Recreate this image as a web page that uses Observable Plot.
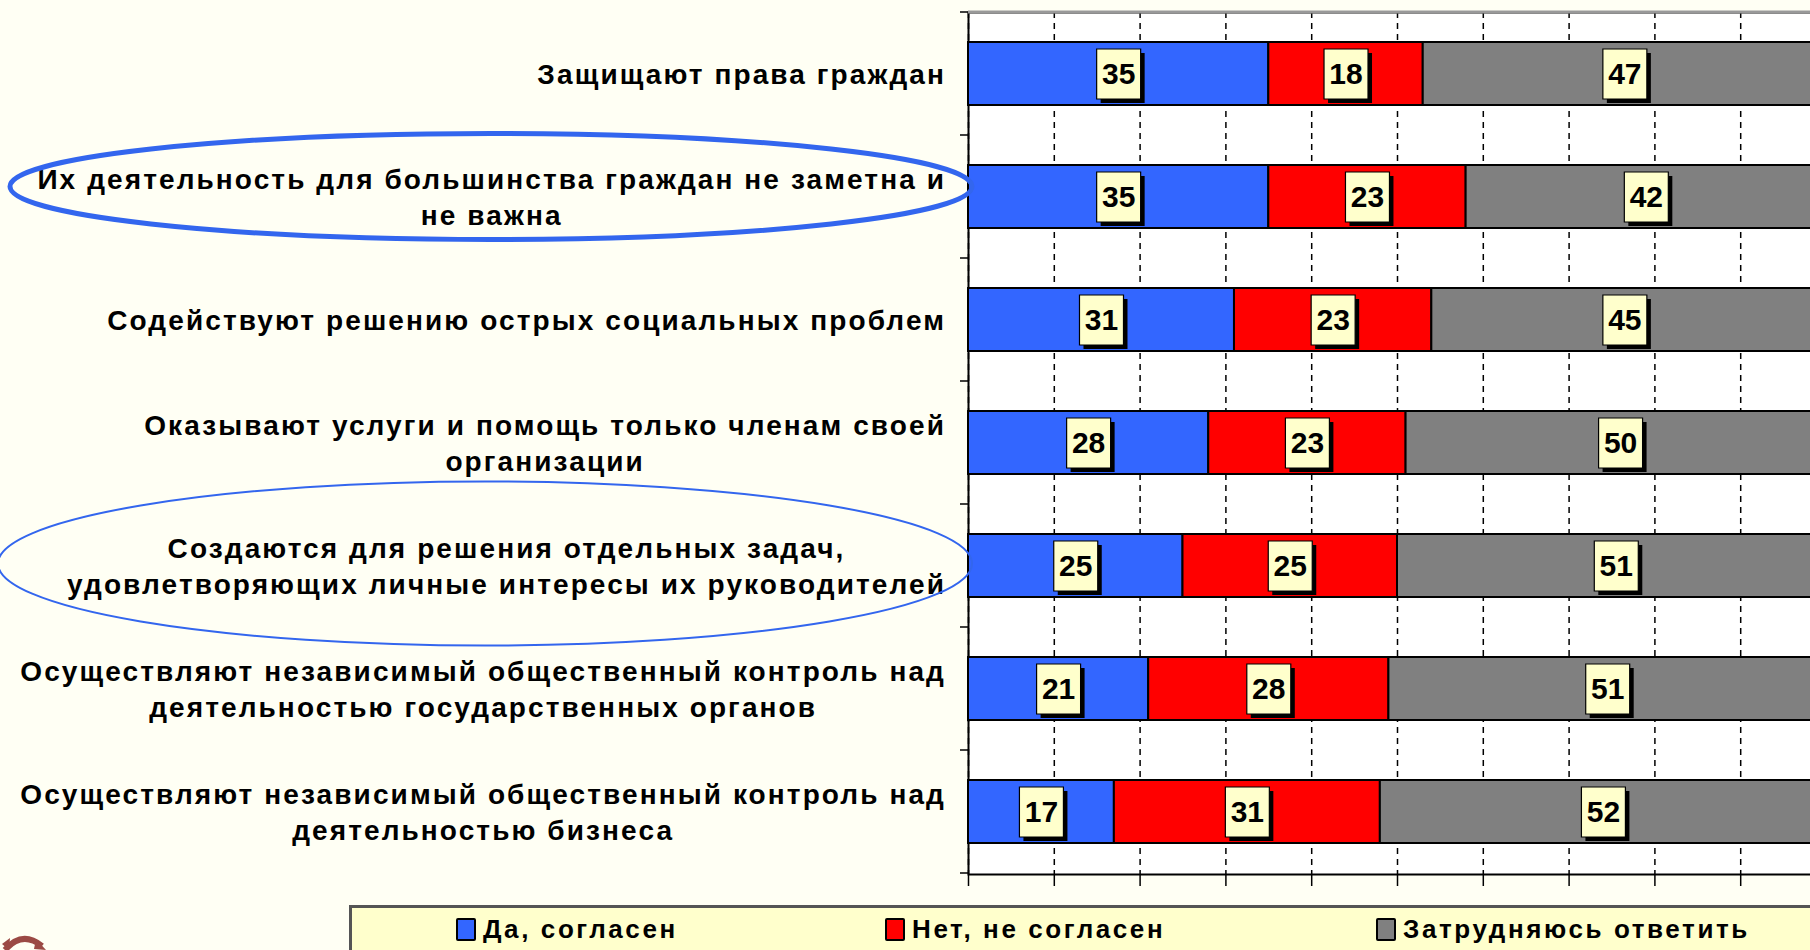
<!DOCTYPE html>
<html><head><meta charset="utf-8">
<script src="https://cdn.jsdelivr.net/npm/d3@7"></script>
<script src="https://cdn.jsdelivr.net/npm/@observablehq/plot@0.6"></script>
<style>
html,body{margin:0;padding:0;background:#FFFFF4;overflow:hidden;width:1810px;height:950px;position:relative;}
#chart{position:absolute;left:0;top:0;width:1840px;}
#chart svg{max-width:none !important;}
g[aria-description="ylabels"] text{letter-spacing:2.1px;}
#legend{position:absolute;left:349px;top:905px;width:1520px;height:70px;background:#FFFFCC;border-top:3px solid #555;border-left:3px solid #555;box-sizing:border-box;font:bold 26px "Liberation Sans",Arial,sans-serif;letter-spacing:2.6px;color:#000;}
#legend .item{position:absolute;top:6px;display:flex;align-items:center;gap:7px;white-space:nowrap;}
#legend .sw{width:16px;height:19px;border:2px solid #000;border-radius:2px;display:inline-block;}
#logo{position:absolute;left:0;top:928px;}
</style>
</head><body>
<div id="chart"></div>
<div id="legend"></div>
<svg id="logo" width="60" height="22"><path d="M5,22 Q22,2 42,18" fill="none" stroke="#9B4A45" stroke-width="6"/><path d="M36,11 L46,22 L34,21 Z" fill="#9B4A45"/><path d="M2,16 L10,10 L9,22 Z" fill="#9B4A45"/></svg>
<script>
const categories = [
  "Защищают права граждан",
  "Их деятельность для большинства граждан не заметна и\nне важна",
  "Содействуют решению острых социальных проблем",
  "Оказывают услуги и помощь только членам своей\nорганизации",
  "Создаются для решения отдельных задач,\nудовлетворяющих личные интересы их руководителей",
  "Осуществляют независимый общественный контроль над\nдеятельностью государственных органов",
  "Осуществляют независимый общественный контроль над\nдеятельностью бизнеса"
];
const series = ["Да, согласен", "Нет, не согласен", "Затрудняюсь ответить"];
const agree = [35, 35, 31, 28, 25, 21, 17];
const disagree = [18, 23, 23, 23, 25, 28, 31];
const unsure = [47, 42, 45, 50, 51, 51, 52];
const highlighted = [1, 4]; // indices of circled statements

const colors = ["#3366FF", "#FF0000", "#808080"];
const valuesBySeries = [agree, disagree, unsure];
const rows = [];
categories.forEach((c, i) => series.forEach((s, j) => rows.push({cat: c, series: s, value: valuesBySeries[j][i]})));

const LABEL_FONT = 28, GAP = 22;
const box = {draw(c) { c.rect(-22, -25, 44, 50); }};

const plot = Plot.plot({
  width: 1840, height: 895,
  marginLeft: 968, marginRight: 14, marginTop: 12, marginBottom: 21,
  style: {background: "transparent", fontFamily: "'Liberation Sans', Arial, sans-serif", overflow: "visible", maxWidth: "none"},
  x: {domain: [0, 100], axis: null, label: null},
  y: {domain: categories, axis: null, paddingInner: 0.485, paddingOuter: 0.2425},
  color: {domain: series, range: colors},
  marks: [
    Plot.frame({fill: "white", stroke: "black", strokeWidth: 2}),
    Plot.gridX({ticks: 10, stroke: "black", strokeOpacity: 1, strokeWidth: 1.5, strokeDasharray: "6,5"}),
    Plot.axisX({ticks: 10, tickSize: 12, tickFormat: () => "", label: null, stroke: "black", strokeWidth: 1.5}),
    Plot.barX(rows, {x: "value", y: "cat", fill: "series", stroke: "black", strokeWidth: 2}),
    Plot.dot(rows, Plot.stackX({x: "value", y: "cat", symbol: box, fill: "black", dx: 4, dy: 4})),
    Plot.dot(rows, Plot.stackX({x: "value", y: "cat", symbol: box, fill: "#FFFFCC", stroke: "black", strokeWidth: 1.2})),
    Plot.text(rows, Plot.stackX({x: "value", y: "cat", text: "value", fontSize: 30, fontWeight: "bold", fill: "black"})),
    Plot.text(categories, {
      y: d => d, text: d => d, frameAnchor: "left", textAnchor: "middle", lineAnchor: "middle", dy: -2,
      lineHeight: 1.29, fontSize: LABEL_FONT, fontWeight: "bold", fill: "black", ariaDescription: "ylabels"
    })
  ]
});
document.getElementById("chart").appendChild(plot);

const svg = d3.select(plot);
const left = 968;
// right-align each (internally centred) label block against the axis
const svgRect = plot.getBoundingClientRect();
svg.selectAll('g[aria-description="ylabels"] text').each(function() {
  const r = this.getBoundingClientRect();
  const shift = (left - GAP) - (r.right - svgRect.left);
  this.setAttribute("transform", `translate(${shift},0) ${this.getAttribute("transform") || ""}`);
});

// decorations: top border, y-axis ticks at band boundaries, ellipses
const ys = plot.scale("y");
const gapHalf = (ys.step - ys.bandwidth) / 2;
const deco = svg.append("g");
deco.append("line").attr("x1", left).attr("x2", 1840).attr("y1", 12).attr("y2", 12).attr("stroke", "#999").attr("stroke-width", 3);
const bounds = categories.map(c => ys.apply(c) - gapHalf);
bounds.push(ys.apply(categories[categories.length - 1]) + ys.bandwidth + gapHalf);
bounds.forEach(y => deco.append("line").attr("x1", left - 8).attr("x2", left).attr("y1", y).attr("y2", y).attr("stroke", "black").attr("stroke-width", 1.5));
const ell = [{i: highlighted[0], rx: 481, ry: 53, dy: -10, cx: 491, w: 5}, {i: highlighted[1], rx: 487, ry: 82, dy: -2, cx: 485, w: 2}];
ell.forEach(e => {
  const cy = ys.apply(categories[e.i]) + ys.bandwidth / 2 + e.dy;
  deco.append("ellipse").attr("cx", e.cx).attr("cy", cy).attr("rx", e.rx).attr("ry", e.ry)
    .attr("fill", "none").attr("stroke", "#3366EE").attr("stroke-width", e.w);
});

// legend
const legendLefts = [104, 533, 1024];
const lg = document.getElementById("legend");
series.forEach((s, j) => {
  const it = document.createElement("div");
  it.className = "item";
  it.style.left = legendLefts[j] + "px";
  it.innerHTML = `<span class="sw" style="background:${colors[j]}"></span><span>${s}</span>`;
  lg.appendChild(it);
});
</script>
</body></html>
